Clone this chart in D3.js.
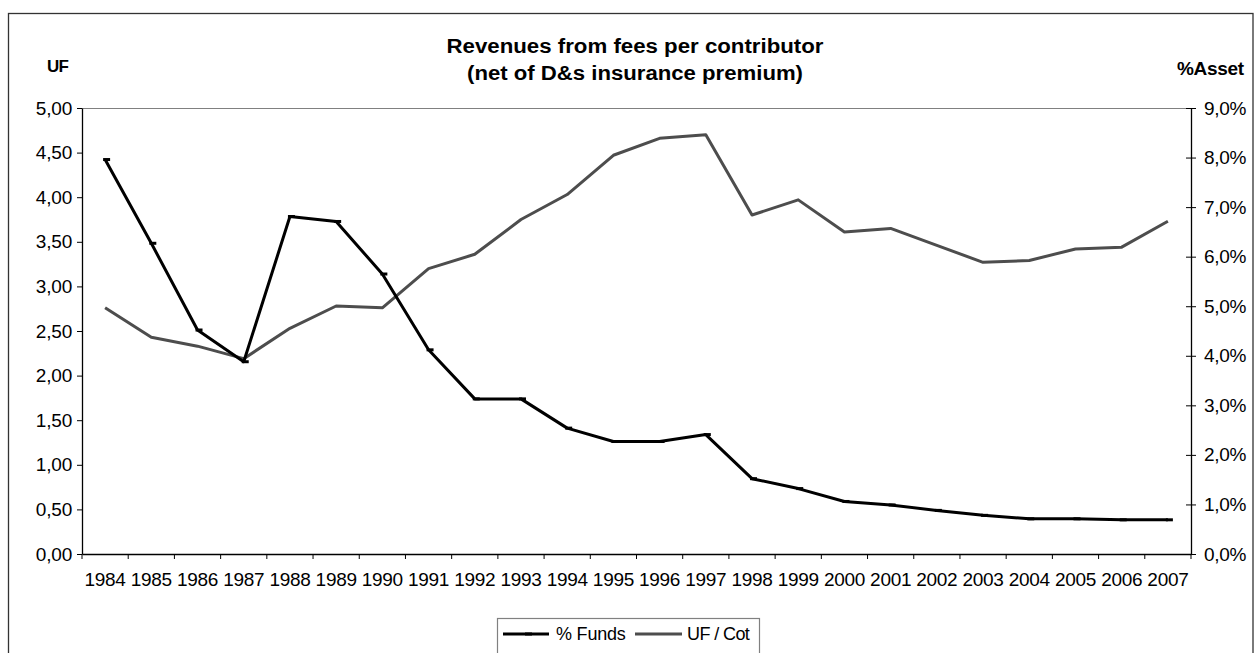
<!DOCTYPE html>
<html>
<head>
<meta charset="utf-8">
<script src="https://cdn.jsdelivr.net/npm/d3@7"></script>
<style>
  body { margin: 0; background: #fff; }
  text { font-family: "Liberation Sans", Arial, sans-serif; }
</style>
</head>
<body>
<svg id="chart" width="1256" height="653"></svg>
<script>
const years = ["1984","1985","1986","1987","1988","1989","1990","1991","1992","1993","1994","1995","1996","1997","1998","1999","2000","2001","2002","2003","2004","2005","2006","2007"];
// % of funds (right axis, %)
const pctFunds = [7.96,6.27,4.52,3.88,6.81,6.71,5.65,4.12,3.13,3.13,2.54,2.27,2.27,2.41,1.52,1.32,1.06,0.99,0.88,0.78,0.71,0.71,0.69,0.69];
// UF per contributor (left axis, UF)
const ufCot = [2.76,2.43,2.33,2.19,2.53,2.78,2.76,3.20,3.36,3.75,4.03,4.47,4.66,4.70,3.80,3.97,3.61,3.65,3.46,3.27,3.29,3.42,3.44,3.73];
const leftTicks = [0,0.5,1,1.5,2,2.5,3,3.5,4,4.5,5];
const rightTicks = [0,1,2,3,4,5,6,7,8,9];
const titleLines = ["Revenues from fees per contributor","(net of D&s insurance premium)"];
const seriesNames = ["% Funds","UF / Cot"];

const svg = d3.select("#chart");
const L = 82, R = 1191, T = 108, B = 554;
const FF = "'Liberation Sans', Arial, sans-serif";

const x = d3.scaleBand().domain(years).range([L, R]).paddingInner(0).paddingOuter(0);
const cx = d => x(d) + x.bandwidth()/2;
const yL = d3.scaleLinear().domain([0,5]).range([B, T]);
const yR = d3.scaleLinear().domain([0,9]).range([B, T]);

// outer border
svg.append("rect").attr("x",8.5).attr("y",13.5).attr("width",1244.5).attr("height",660)
  .attr("fill","none").attr("stroke","#333").attr("stroke-width",1.3);

// plot area top border (gray)
svg.append("line").attr("x1",L).attr("x2",R).attr("y1",T+0.5).attr("y2",T+0.5)
  .attr("stroke","#808080").attr("stroke-width",1.2);

// title
const titleW = [377, 336];
svg.append("g").selectAll("text").data(titleLines).join("text")
  .attr("x",635).attr("y",(d,i)=>53+i*27).attr("text-anchor","middle")
  .attr("font-size",20).attr("font-weight","bold")
  .attr("textLength",(d,i)=>titleW[i]).attr("lengthAdjust","spacingAndGlyphs")
  .text(d=>d);

// axis titles
svg.append("text").attr("x",47).attr("y",72).attr("font-size",17).attr("font-weight","bold")
  .attr("letter-spacing",-0.8).text("UF");
svg.append("text").attr("x",1177).attr("y",75).attr("font-size",19).attr("font-weight","bold")
  .attr("letter-spacing",-0.3).text("%Asset");

// left axis
const fmtL = d => d.toFixed(2).replace(".",",");
const gL = svg.append("g").attr("transform",`translate(${L},0)`)
  .call(d3.axisLeft(yL).tickValues(leftTicks).tickFormat(fmtL).tickSize(5).tickSizeOuter(0));
gL.select(".domain").attr("stroke","#000").attr("stroke-width",1.3);
gL.selectAll(".tick line").attr("stroke","#000");
gL.selectAll(".tick text").attr("font-size",19).attr("letter-spacing",-0.2).attr("x",-10).attr("fill","#000")
  .attr("font-family",FF);

// right axis
const fmtR = d => d.toFixed(1).replace(".",",")+"%";
const gR = svg.append("g").attr("transform",`translate(${R},0)`)
  .call(d3.axisRight(yR).tickValues(rightTicks).tickFormat(fmtR).tickSize(5).tickSizeOuter(0));
gR.select(".domain").attr("stroke","#000").attr("stroke-width",1.3);
gR.selectAll(".tick line").attr("stroke","#000").attr("x1",-5).attr("x2",5);
gR.selectAll(".tick text").attr("font-size",19).attr("letter-spacing",-0.3).attr("x",13).attr("fill","#000")
  .attr("font-family",FF);

// bottom axis
const gB = svg.append("g").attr("transform",`translate(0,${B})`)
  .call(d3.axisBottom(x).tickSize(0).tickSizeOuter(0));
gB.select(".domain").attr("stroke","#000").attr("stroke-width",1.3);
gB.selectAll(".tick text").attr("font-size",19).attr("letter-spacing",-0.3).attr("y",19).attr("fill","#000")
  .attr("font-family",FF);
const edges = years.map(d=>x(d)).concat([x(years[years.length-1])+x.bandwidth()]);
gB.selectAll(".edge").data(edges).join("line").attr("class","edge")
  .attr("x1",d=>d).attr("x2",d=>d).attr("y1",0).attr("y2",5).attr("stroke","#000");

// lines
const lineL = d3.line().x((d,i)=>cx(years[i])).y(d=>yL(d));
const lineR = d3.line().x((d,i)=>cx(years[i])).y(d=>yR(d));
svg.append("path").datum(ufCot).attr("d",lineL).attr("fill","none")
  .attr("stroke","#4d4d4d").attr("stroke-width",3).attr("stroke-linejoin","round");
svg.append("path").datum(pctFunds).attr("d",lineR).attr("fill","none")
  .attr("stroke","#000").attr("stroke-width",3).attr("stroke-linejoin","round");
// dash markers
svg.append("g").selectAll("rect").data(pctFunds).join("rect")
  .attr("x",(d,i)=>cx(years[i])-2).attr("y",d=>yR(d)-1.5).attr("width",7).attr("height",3).attr("fill","#000");

// legend
const lg = svg.append("g");
lg.append("rect").attr("x",497.5).attr("y",618.5).attr("width",262).attr("height",60)
  .attr("fill","#fff").attr("stroke","#808080").attr("stroke-width",1.2);
lg.append("line").attr("x1",503).attr("x2",549).attr("y1",634).attr("y2",634).attr("stroke","#000").attr("stroke-width",3);
lg.append("rect").attr("x",525).attr("y",632.5).attr("width",7).attr("height",3).attr("fill","#000");
lg.append("text").attr("x",556).attr("y",640).attr("font-size",18).attr("letter-spacing",-0.2).text(seriesNames[0]);
lg.append("line").attr("x1",635).attr("x2",682).attr("y1",634).attr("y2",634).attr("stroke","#4d4d4d").attr("stroke-width",3);
lg.append("text").attr("x",687).attr("y",640).attr("font-size",18).attr("letter-spacing",-0.6).text(seriesNames[1]);
</script>
</body>
</html>
